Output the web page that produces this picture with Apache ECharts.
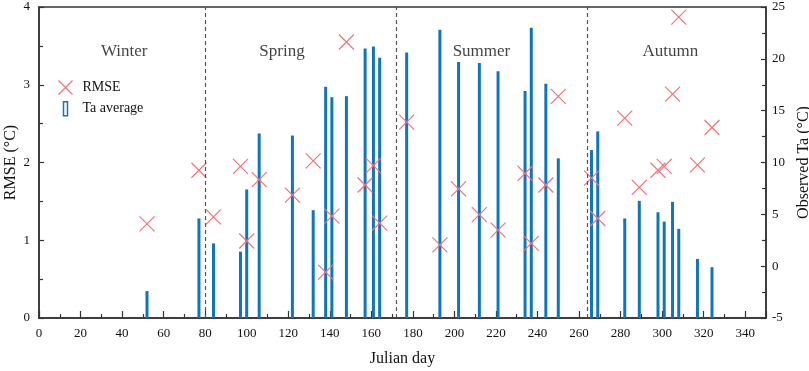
<!DOCTYPE html>
<html>
<head>
<meta charset="utf-8">
<script src="https://cdn.jsdelivr.net/npm/echarts@6/dist/echarts.min.js"></script>
<style>
  html, body { margin: 0; padding: 0; background: #fff; }
  #chart { width: 809px; height: 371px; }
</style>
</head>
<body>
<div id="chart"></div>
<script>
// sampled Julian days (same days for both series)
const days = [52, 77, 84, 97, 100, 106, 122, 132, 138, 141, 148, 157, 161, 164, 177, 193, 202, 212, 221, 234, 237, 244, 250, 266, 269, 282, 289, 298, 301, 305, 308, 317, 324];
const rmse = [1.21, 1.90, 1.30, 1.95, 0.99, 1.78, 1.58, 2.02, 0.59, 1.31, 3.55, 1.71, 1.96, 1.22, 2.52, 0.94, 1.66, 1.33, 1.13, 1.86, 0.96, 1.71, 2.85, 1.80, 1.28, 2.57, 1.68, 1.90, 1.95, 2.88, 3.87, 1.97, 2.45];
const taAvg = [-2.4, 4.6, 2.2, 1.4, 7.4, 12.8, 12.6, 5.4, 17.3, 16.3, 16.4, 21.0, 21.2, 20.1, 20.6, 22.8, 19.7, 19.6, 18.8, 16.9, 23.0, 17.6, 10.4, 11.2, 13.0, 4.6, 6.3, 5.2, 4.3, 6.2, 3.6, 0.7, -0.1];

// season boundaries and labels
const seasonBreaks = [80, 172, 264];
const seasonNames = ['Winter', 'Spring', 'Summer', 'Autumn'];
const seasonLabelDay = [41, 117, 213, 304];
const seasonLabelRmse = 3.43;

const FONT = '"Liberation Serif", "DejaVu Serif", serif';
const BLUE = '#0f75bc';
const RED = '#f4737a';
const AXIS = '#333';
const CROSS = 'path://M0,0L10,10M10,0L0,10';

const chart = echarts.init(document.getElementById('chart'));

const option = {
  animation: false,
  textStyle: { fontFamily: FONT },
  grid: {
    left: 39, right: 43, top: 7, bottom: 53,
    containLabel: false, outerBoundsMode: 'none',
    show: true, borderColor: AXIS, borderWidth: 1.5
  },
  legend: {
    orient: 'vertical',
    left: 51, top: 73,
    itemWidth: 20, itemHeight: 14, itemGap: 4,
    textStyle: { fontFamily: FONT, fontSize: 14, color: '#111', padding: [0, 0, 0, 2] },
    data: [
      { name: 'RMSE', icon: CROSS, itemStyle: { color: 'none', borderColor: RED, borderWidth: 1.2 } },
      { name: 'Ta average', icon: 'path://M0,0h4v14h-4z', itemStyle: { color: '#fff', borderColor: BLUE, borderWidth: 1.5 } }
    ]
  },
  xAxis: {
    type: 'value', min: 0, max: 350, interval: 20,
    name: 'Julian day', nameLocation: 'middle', nameGap: 33,
    nameTextStyle: { fontFamily: FONT, fontSize: 16, color: '#111' },
    axisLine: { lineStyle: { color: AXIS, width: 1.5 } },
    axisTick: { inside: true, length: 7, lineStyle: { color: AXIS, width: 1.2 } },
    minorTick: { show: true, splitNumber: 2, length: 4, lineStyle: { color: AXIS, width: 1.2 } },
    axisLabel: { fontFamily: FONT, fontSize: 13, color: '#111', margin: 9, showMaxLabel: false },
    splitLine: { show: false }
  },
  yAxis: [{
    type: 'value', min: 0, max: 4, interval: 1,
    name: 'RMSE (°C)', nameLocation: 'middle', nameGap: 20, nameMoveOverlap: false,
    nameTextStyle: { fontFamily: FONT, fontSize: 16, color: '#111' },
    axisLine: { show: true, lineStyle: { color: AXIS, width: 1.5 } },
    axisTick: { inside: true, length: 5, lineStyle: { color: AXIS, width: 1.2 } },
    minorTick: { show: true, splitNumber: 2, length: 4, lineStyle: { color: AXIS, width: 1.2 } },
    axisLabel: { fontFamily: FONT, fontSize: 13, color: '#111', margin: 9 },
    splitLine: { show: false }
  }, {
    type: 'value', min: -5, max: 25, interval: 5, position: 'right',
    name: 'Observed Ta (°C)', nameLocation: 'middle', nameGap: 26,
    nameTextStyle: { fontFamily: FONT, fontSize: 16, color: '#111' },
    axisLine: { show: true, lineStyle: { color: AXIS, width: 1.5 } },
    axisTick: { inside: true, length: 5, lineStyle: { color: AXIS, width: 1.2 } },
    minorTick: { show: true, splitNumber: 2, length: 4, lineStyle: { color: AXIS, width: 1.2 } },
    axisLabel: { fontFamily: FONT, fontSize: 13, color: '#111', margin: 6 },
    splitLine: { show: false }
  }],
  series: [{
    name: 'Ta average',
    type: 'custom',
    yAxisIndex: 1,
    data: days.map((d, i) => [d, taAvg[i]]),
    encode: { x: 0, y: 1 },
    renderItem: (params, api) => {
      const top = api.coord([api.value(0), api.value(1)]);
      const base = api.coord([api.value(0), -5]);
      const w = 3;
      return {
        type: 'rect',
        shape: { x: top[0] - w / 2, y: top[1], width: w, height: base[1] - top[1] },
        style: { fill: BLUE }
      };
    },
    markLine: {
      silent: true, symbol: 'none', label: { show: false },
      lineStyle: { color: '#555', type: [4, 3], width: 1.2 },
      data: seasonBreaks.map(d => ({ xAxis: d }))
    },
    z: 2
  }, {
    name: 'RMSE',
    type: 'scatter',
    data: days.map((d, i) => [d, rmse[i]]),
    symbol: CROSS,
    symbolSize: 15,
    itemStyle: { color: 'none', borderColor: RED, borderWidth: 1.2, opacity: 1 },
    z: 3
  }, {
    name: 'seasons',
    type: 'scatter',
    data: seasonNames.map((n, i) => ({ name: n, value: [seasonLabelDay[i], seasonLabelRmse] })),
    symbolSize: 1,
    itemStyle: { color: 'rgba(0,0,0,0)' },
    label: {
      show: true, position: 'inside', formatter: '{b}',
      fontFamily: FONT, fontSize: 17, color: '#111'
    },
    silent: true
  }]
};

chart.setOption(option);
</script>
</body>
</html>
